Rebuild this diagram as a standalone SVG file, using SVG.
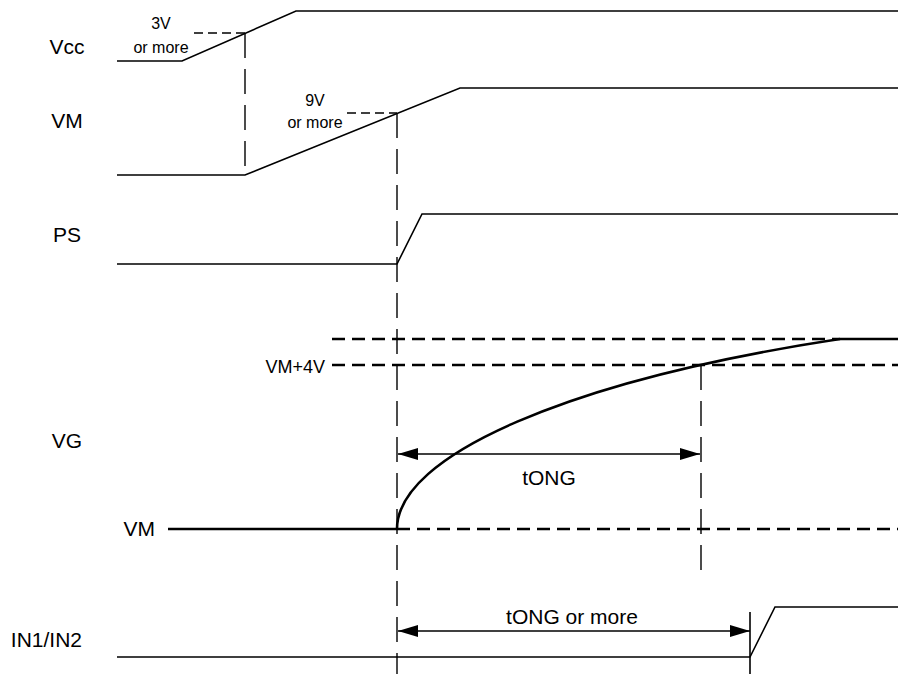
<svg xmlns="http://www.w3.org/2000/svg" width="906" height="674" viewBox="0 0 906 674">
<style>
text{font-family:"Liberation Sans",Arial,sans-serif;fill:#000}
.lbl{font-size:21px}
.sm{font-size:16px;text-anchor:middle}
.sig{fill:none;stroke:#000;stroke-width:1.6}
.thick{fill:none;stroke:#000;stroke-width:2.6}
.vd{fill:none;stroke:#000;stroke-width:1.4;stroke-dasharray:25 11}
.hd{fill:none;stroke:#000;stroke-width:1.4;stroke-dasharray:9 5}
.gd{fill:none;stroke:#000;stroke-width:2.6;stroke-dasharray:13 7}
.arr{fill:none;stroke:#000;stroke-width:1.3;marker-start:url(#ah);marker-end:url(#ah)}
</style>
<defs>
<marker id="ah" viewBox="0 0 20 12" refX="20" refY="6" markerWidth="20" markerHeight="12" markerUnits="userSpaceOnUse" orient="auto-start-reverse">
<path d="M0,0 L20,6 L0,12 Z" fill="#000"/>
</marker>
</defs>
<rect width="906" height="674" fill="#fff"/>
<g id="labels">
<text class="lbl" x="67" y="54" text-anchor="middle">Vcc</text>
<text class="lbl" x="67" y="128" text-anchor="middle">VM</text>
<text class="lbl" x="67" y="242" text-anchor="middle">PS</text>
<text class="lbl" x="67" y="448" text-anchor="middle">VG</text>
<text class="lbl" x="155" y="536" text-anchor="end">VM</text>
<text class="lbl" x="82" y="647" text-anchor="end">IN1/IN2</text>
<text x="325" y="373" font-size="18" text-anchor="end">VM+4V</text>
</g>
<g id="sig-vcc">
<polyline class="sig" points="117,61 182,61 296,11 898,11"/>
<line class="hd" x1="194" y1="33" x2="245" y2="33"/>
<text class="sm" x="161" y="29">3V</text>
<text class="sm" x="161" y="53">or more</text>
</g>
<g id="sig-vm">
<polyline class="sig" points="117,175 245,175 460,88 898,88"/>
<line class="hd" x1="347" y1="113" x2="397" y2="113"/>
<text class="sm" x="315" y="106">9V</text>
<text class="sm" x="315" y="128">or more</text>
</g>
<g id="sig-ps">
<polyline class="sig" points="117,264 397,264 422,214 898,214"/>
</g>
<g id="sig-vg">
<line class="gd" x1="332" y1="339" x2="840" y2="339"/>
<line class="thick" x1="840" y1="339" x2="898" y2="339"/>
<line class="gd" x1="332" y1="365" x2="898" y2="365"/>
<line class="thick" x1="168" y1="529" x2="397" y2="529"/>
<line class="gd" x1="397" y1="529" x2="898" y2="529"/>
<path class="thick" d="M397,529 C397,455 570,380 840,339"/>
<text class="lbl" x="549" y="485" text-anchor="middle">tONG</text>
</g>
<g id="sig-in">
<polyline class="sig" points="117,657 750,657 775,607 898,607"/>
<text class="lbl" x="572" y="624" text-anchor="middle">tONG or more</text>
</g>
<g id="connectors">
<line class="vd" x1="245" y1="33" x2="245" y2="175"/>
<line class="vd" x1="397" y1="113" x2="397" y2="674"/>
<line class="vd" x1="701" y1="365" x2="701" y2="580"/>
<line class="sig" x1="750" y1="612" x2="750" y2="674" stroke-width="1.3"/>
<line class="arr" x1="398" y1="454" x2="700" y2="454"/>
<line class="arr" x1="398" y1="631" x2="750" y2="631"/>
</g>
</svg>
